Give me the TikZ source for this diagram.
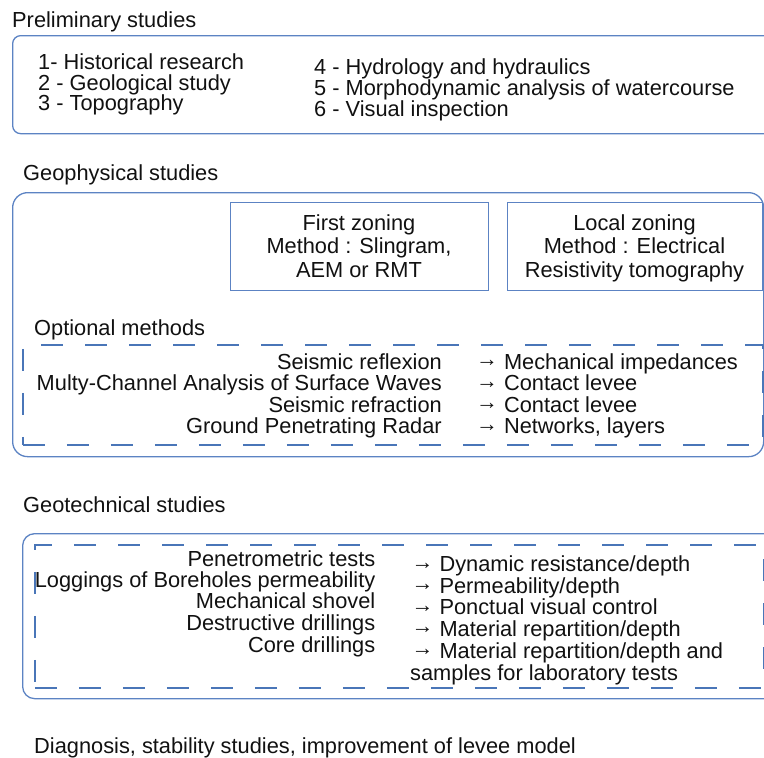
\documentclass[tikz,border=0pt]{standalone}
\usepackage{fontspec}
\setmainfont{Liberation Sans}
\definecolor{frameblue}{HTML}{5C83C3}
\definecolor{dashblue}{HTML}{4A76B8}
\definecolor{ink}{HTML}{111111}
% arrow glyph lifted to the middle of the lowercase letters
\newcommand{\rarrow}{\raisebox{0.1em}{→}}

\begin{document}
\begin{tikzpicture}[x=1pt,y=-1pt,
  txt/.style={inner sep=0pt, font=\fontsize{21.8}{24}\selectfont, text=ink},
  lt/.style={txt, anchor=base west},
  rt/.style={txt, anchor=base east},
  ct/.style={txt, anchor=base},
  boxbase/.style={inner sep=0pt, anchor=north west},
  frame/.style={boxbase, draw=frameblue, line width=1.3pt, rounded corners=#1},
  zonebox/.style={boxbase, draw=frameblue, line width=1.3pt},
  dashframe/.style={boxbase, draw=dashblue, line width=1.7pt, dash pattern=on 22pt off 22pt}
]
\useasboundingbox (0,0) rectangle (764,758);
\clip (0,0) rectangle (764,758);

% ---------- Preliminary studies ----------
\node[lt] (pretitle) at (12,27) {Preliminary studies};
\node[frame=8pt, minimum width=778pt, minimum height=98pt] (prebox) at (12,35) {};
\node[lt] (p1) at (38,69)    {1- Historical research};
\node[lt] (p2) at (38,90)    {2 - Geological study};
\node[lt] (p3) at (38,110.5) {3 - Topography};
\node[lt] (p4) at (314,74)    {4 - Hydrology and hydraulics};
\node[lt] (p5) at (314,95.5)  {5 - Morphodynamic analysis of watercourse};
\node[lt] (p6) at (314,116.5) {6 - Visual inspection};

% ---------- Geophysical studies ----------
\node[lt] (geotitle) at (23,180) {Geophysical studies};
\node[frame=15pt, minimum width=751pt, minimum height=264pt] (geobox) at (12,192) {};

\node[zonebox, minimum width=258pt, minimum height=88pt] (firstbox) at (230,202) {};
\node[ct] (f1) at (359,230)   {First zoning};
\node[ct] (f2) at (359,253.5) {Method : Slingram,};
\node[ct] (f3) at (359,277.5) {AEM or RMT};

\node[zonebox, minimum width=255pt, minimum height=88pt] (localbox) at (507,202) {};
\node[ct] (l1) at (634.5,230)   {Local zoning};
\node[ct] (l2) at (634.5,253.5) {Method : Electrical};
\node[ct] (l3) at (634.5,277.5) {Resistivity tomography};

\node[lt] (opttitle) at (34,335) {Optional methods};
\node[dashframe, minimum width=740pt, minimum height=100pt] (optbox) at (22,344) {};
\node[rt] (o1) at (442,369)   {Seismic reflexion};
\node[rt] (o2) at (442,390.5) {Multy-Channel Analysis of Surface Waves};
\node[rt] (o3) at (442,412)   {Seismic refraction};
\node[rt] (o4) at (442,433.5) {Ground Penetrating Radar};
\node[lt] (r1) at (476,369)   {\rarrow{} Mechanical impedances};
\node[lt] (r2) at (476,390.5) {\rarrow{} Contact levee};
\node[lt] (r3) at (476,412)   {\rarrow{} Contact levee};
\node[lt] (r4) at (476,433.5) {\rarrow{} Networks, layers};

% ---------- Geotechnical studies ----------
\node[lt] (tectitle) at (23,512.5) {Geotechnical studies};
\node[frame=12pt, minimum width=768pt, minimum height=165pt] (tecbox) at (22,533) {};
\node[dashframe, minimum width=729pt, minimum height=143pt] (tecdash) at (34,544) {};
\node[rt] (t1) at (375.5,566)   {Penetrometric tests};
\node[rt] (t2) at (375.5,587)   {Loggings of Boreholes permeability};
\node[rt] (t3) at (375.5,608.5) {Mechanical shovel};
\node[rt] (t4) at (375.5,630.5) {Destructive drillings};
\node[rt] (t5) at (375.5,652.5) {Core drillings};
\node[lt] (s1) at (411.5,571.5) {\rarrow{} Dynamic resistance/depth};
\node[lt] (s2) at (411.5,593)   {\rarrow{} Permeability/depth};
\node[lt] (s3) at (411.5,614.5) {\rarrow{} Ponctual visual control};
\node[lt] (s4) at (411.5,636)   {\rarrow{} Material repartition/depth};
\node[lt] (s5) at (411.5,658)   {\rarrow{} Material repartition/depth and};
\node[lt] (s6) at (410,680)     {samples for laboratory tests};

% ---------- Conclusion ----------
\node[lt] (diag) at (34,753) {Diagnosis, stability studies, improvement of levee model};
\end{tikzpicture}
\end{document}
